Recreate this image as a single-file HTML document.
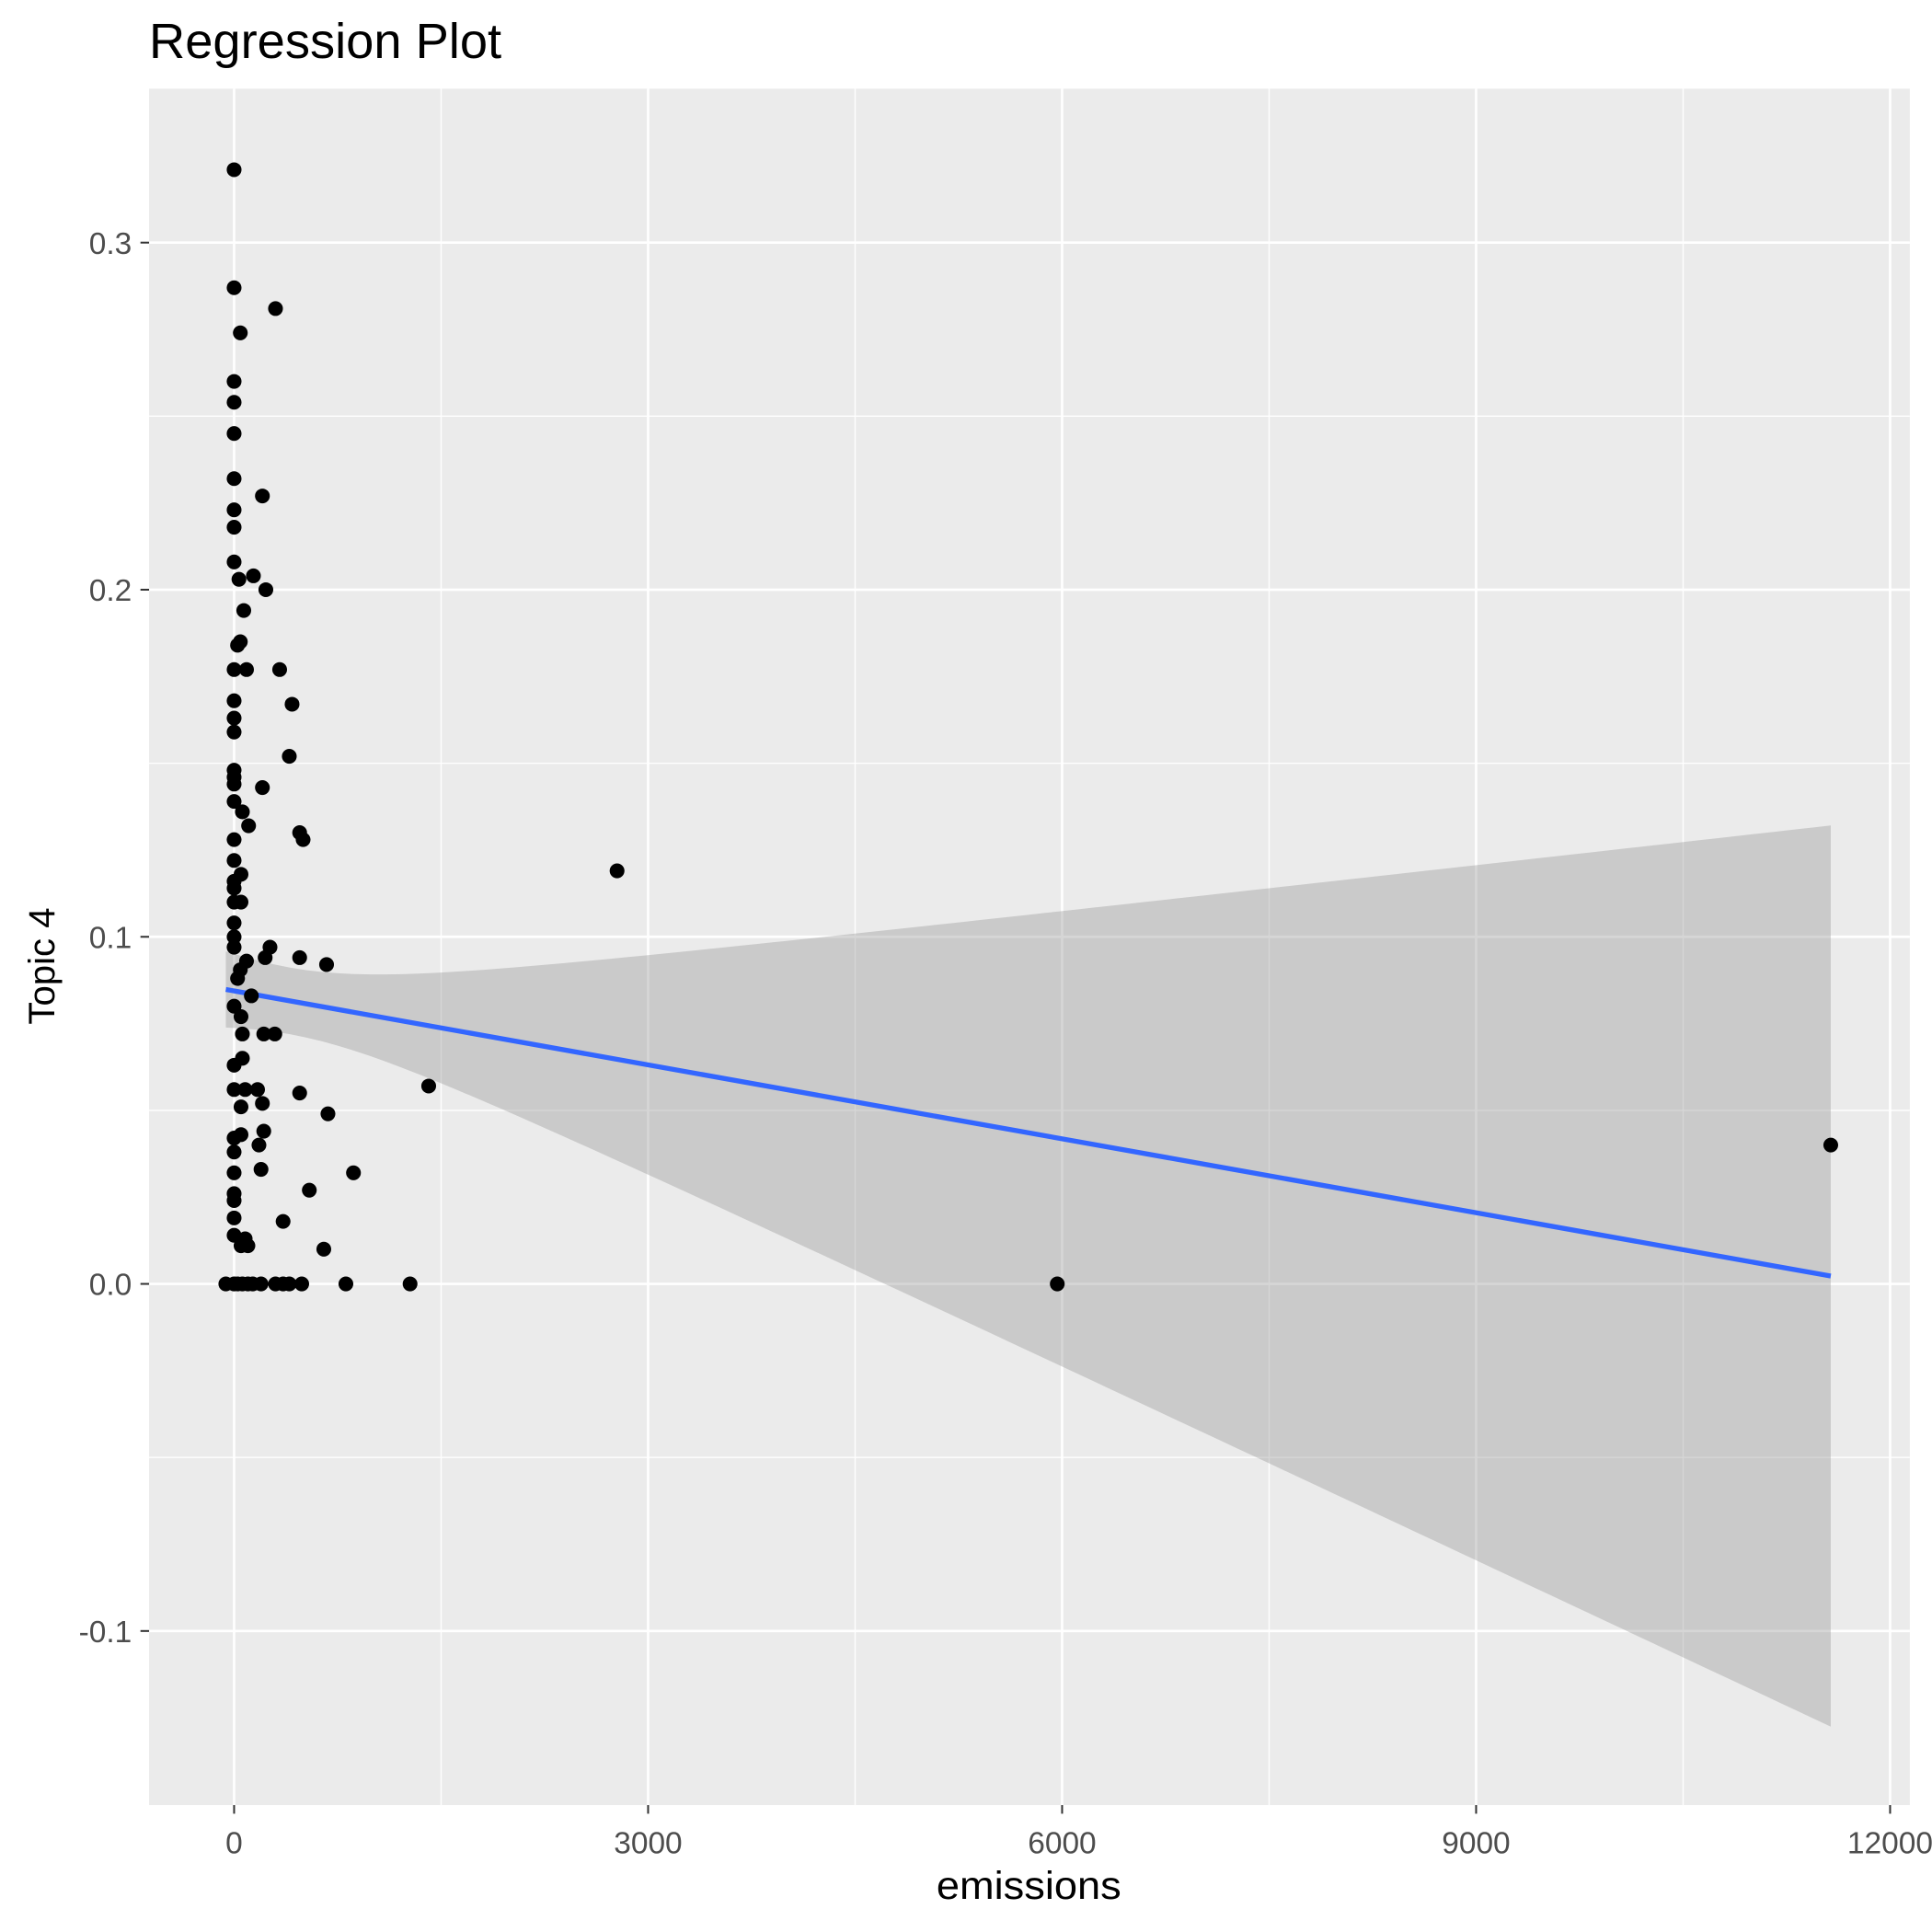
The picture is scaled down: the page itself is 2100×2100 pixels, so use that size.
<!DOCTYPE html>
<html><head><meta charset="utf-8"><style>
html,body{margin:0;padding:0;background:#fff;}
svg{display:block;font-family:"Liberation Sans",Arial,sans-serif;}
</style></head><body>
<svg id="chart" width="2100" height="2100" viewBox="0 0 1568 1568" xmlns="http://www.w3.org/2000/svg">
<text x="121" y="47" font-size="40" textLength="286" lengthAdjust="spacingAndGlyphs" fill="#000">Regression Plot</text>
<rect x="121" y="72" width="1429" height="1393" fill="#ebebeb"/>
<g id="grid"></g>
<g id="band"></g>
<g id="line"></g>
<g id="points"></g>
<g id="axes"></g>
<text x="760" y="1541" font-size="32" textLength="150" lengthAdjust="spacingAndGlyphs" fill="#000">emissions</text>
<text transform="translate(44,784) rotate(-90)" font-size="30" text-anchor="middle" fill="#000">Topic 4</text>
</svg>
<script>
const xTicks=[0,3000,6000,9000,12000];
const xMinor=[1500,4500,7500,10500];
const yTicks=[-0.1,0,0.1,0.2,0.3];
const yTickLabels=["-0.1","0.0","0.1","0.2","0.3"];
const yMinor=[-0.05,0.05,0.15,0.25];
const emissions=[0,0,300,45,0,0,0,0,0,205,0,0,35,140,230,70,45,25,0,90,330,420,0,0,0,400,0,0,0,205,0,60,105,475,500,0,0,50,0,2775,0,0,50,0,0,0,260,475,225,670,90,45,25,125,0,50,60,215,295,60,0,0,80,170,1410,475,50,205,680,215,50,0,180,0,11570,195,865,0,0,545,0,355,0,0,80,50,100,650,-60,0,25,60,100,135,195,300,355,400,490,810,1275,5965];
const topic4=[0.321,0.287,0.281,0.274,0.260,0.254,0.245,0.232,0.223,0.227,0.218,0.208,0.203,0.204,0.200,0.194,0.185,0.184,0.177,0.177,0.177,0.167,0.168,0.163,0.159,0.152,0.148,0.146,0.144,0.143,0.139,0.136,0.132,0.130,0.128,0.128,0.122,0.118,0.116,0.119,0.114,0.110,0.110,0.104,0.100,0.097,0.097,0.094,0.094,0.092,0.093,0.0905,0.088,0.083,0.080,0.077,0.072,0.072,0.072,0.065,0.063,0.056,0.056,0.056,0.057,0.055,0.051,0.052,0.049,0.044,0.043,0.042,0.040,0.038,0.040,0.033,0.032,0.032,0.026,0.027,0.024,0.018,0.019,0.014,0.013,0.011,0.011,0.010,0,0,0,0,0,0,0,0,0,0,0,0,0,0];
const fitIntercept=[0.0844];
const fitSlope=[-7.1e-6];
const fitRange=[-60,11570];
const bandParams=[0.0096,1.159e-5,400];

const X0=190,XS=336/3000,Y0=1042,YS=2817;
const sx=v=>X0+v*XS, sy=v=>Y0-v*YS;
const NS="http://www.w3.org/2000/svg";
function mk(tag,attrs,parent){const e=document.createElementNS(NS,tag);for(const k in attrs)e.setAttribute(k,attrs[k]);parent.appendChild(e);return e;}
const grid=document.getElementById('grid');
xMinor.forEach(v=>{const l=mk('line',{x1:sx(v),x2:sx(v),y1:72,y2:1465,stroke:'#fff','stroke-width':1},grid);

});
yMinor.forEach(v=>{const l=mk('line',{x1:121,x2:1550,y1:sy(v),y2:sy(v),stroke:'#fff','stroke-width':1},grid);

});
xTicks.forEach(v=>{const l=mk('line',{x1:sx(v),x2:sx(v),y1:72,y2:1465,stroke:'#fff','stroke-width':2},grid);

});
yTicks.forEach(v=>{const l=mk('line',{x1:121,x2:1550,y1:sy(v),y2:sy(v),stroke:'#fff','stroke-width':2},grid);

});
const fit=x=>fitIntercept[0]+fitSlope[0]*x;
const hw=x=>Math.sqrt(bandParams[0]**2+(bandParams[1]*(x-bandParams[2]))**2);
let up=[],lo=[];
for(let i=0;i<=100;i++){const x=fitRange[0]+(fitRange[1]-fitRange[0])*i/100;up.push(sx(x)+','+sy(fit(x)+hw(x)));lo.unshift(sx(x)+','+sy(fit(x)-hw(x)));}
const band=mk('polygon',{points:up.concat(lo).join(' '),fill:'#999','fill-opacity':0.4},document.getElementById('band'));


const ln=mk('line',{x1:sx(fitRange[0]),y1:sy(fit(fitRange[0])),x2:sx(fitRange[1]),y2:sy(fit(fitRange[1])),stroke:'#3366ff','stroke-width':4},document.getElementById('line'));


const pts=document.getElementById('points');
emissions.forEach((e,i)=>{const c=mk('circle',{cx:sx(e),cy:sy(topic4[i]),r:6,fill:'#000'},pts);

});
const ax=document.getElementById('axes');
xTicks.forEach(v=>{const t=mk('line',{x1:sx(v),x2:sx(v),y1:1465,y2:1472,stroke:'#333','stroke-width':1.5},ax);


const tx=mk('text',{x:sx(v),y:1504,'font-size':25,'text-anchor':'middle',fill:'#4d4d4d'},ax);tx.textContent=String(v);

});
yTicks.forEach((v,i)=>{const t=mk('line',{x1:114,x2:121,y1:sy(v),y2:sy(v),stroke:'#333','stroke-width':1.5},ax);


const tx=mk('text',{x:107,y:sy(v)+9,'font-size':25,'text-anchor':'end',fill:'#4d4d4d'},ax);tx.textContent=yTickLabels[i];

});
</script>
</body></html>
